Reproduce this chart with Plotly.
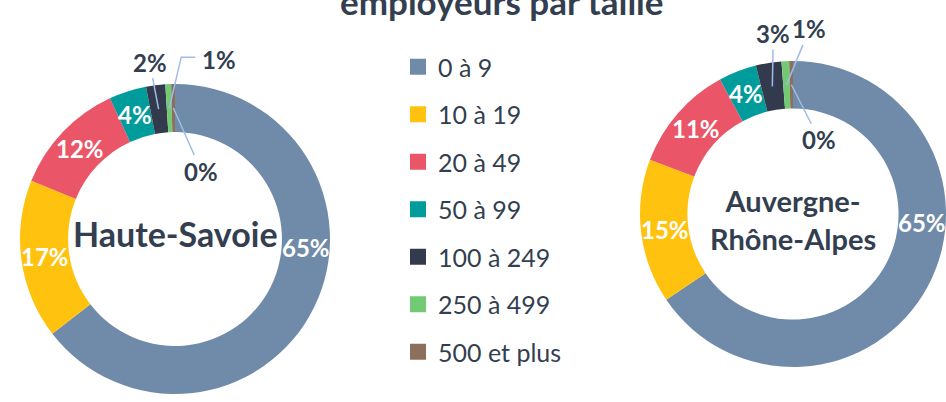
"""Donut charts: employeurs par taille (Haute-Savoie vs Auvergne-Rhône-Alpes)"""
import math
import plotly.graph_objects as go

# ---- data ----
categories = ["0 à 9", "10 à 19", "20 à 49", "50 à 99", "100 à 249", "250 à 499", "500 et plus"]
haute_savoie = [64.6, 16.6, 12.0, 3.9, 2.0, 0.6, 0.4]
auvergne_rhone_alpes = [65.4, 15.2, 11.3, 4.0, 2.7, 0.8, 0.4]
region_names = ["Haute-Savoie", "Auvergne-<br>Rhône-Alpes"]
title_text = "employeurs par taille"

# ---- style ----
colors = ["#6F8BA9", "#FFC20E", "#EA5668", "#009C9C", "#333A4D", "#72CB72", "#8C705E"]
TEXT = "#333F50"
LEADER = "#9DBDE6"
FONT = "Lato"
W, H = 946, 402
HOLE = 0.69

# pie domains in pixels (x0, x1, y0, y1 from top)
domains_px = [(20, 330, 84, 394), (640, 946, 61, 367)]
name_sizes = [34, 29]
name_shift = [-6, 5]  # vertical nudge of the centre title, px

# callouts for the small slices: (slice index, dx, dy, elbow) label offset from tip in px
callouts = [
    [(4, -9, -47, False), (5, 50, -49, True), (6, 28, 63, False)],
    [(4, 1, -53, False), (5, 23, -56, False), (6, 28, 55, False)],
]
MAIN_LABEL_AT = 0.26  # angular position (fraction of the turn) of the big slice label


def geom(dom):
    x0, x1, y0, y1 = dom
    r = min(x1 - x0, y1 - y0) / 2
    return (x0 + x1) / 2, (y0 + y1) / 2, r


def polar(cx, cy, r, frac):
    a = 2 * math.pi * frac
    return cx + r * math.sin(a), cy - r * math.cos(a)


def px(x):
    return x / W


def py(y):
    return 1 - y / H


def note(x, y, text, size, color, **kw):
    return dict(x=px(x), y=py(y), xref="paper", yref="paper",
                xanchor="center", yanchor="middle", text=text,
                font=dict(family=FONT, size=size, color=color), **kw)


fig = go.Figure()
annotations = []
shapes = []

for k, (values, name) in enumerate(zip([haute_savoie, auvergne_rhone_alpes], region_names)):
    dom = domains_px[k]
    fig.add_trace(go.Pie(
        labels=categories,
        values=values,
        hole=HOLE,
        sort=False,
        direction="clockwise",
        rotation=0,
        marker=dict(colors=colors, line=dict(width=0)),
        textinfo="none",
        hoverinfo="label+percent",
        showlegend=False,
        domain=dict(x=[px(dom[0]), px(dom[1])], y=[py(dom[3]), py(dom[2])]),
    ))

    cx, cy, r = geom(dom)
    rmid = r * (1 + HOLE) / 2
    total = sum(values)
    cum = 0
    small = {c[0]: c for c in callouts[k]}
    for i, v in enumerate(values):
        frac_mid = (cum + v / 2) / total
        cum += v
        label = f"<b>{round(v)}%</b>"
        if i in small:
            _, dx, dy, elbow = small[i]
            tx, ty = polar(cx, cy, rmid, frac_mid)
            if elbow:
                lx, ly = tx + dx, ty + dy
                path = (f"M{px(tx)},{py(ty)} L{px(lx - 38)},{py(ly - 2)} "
                        f"L{px(lx - 24)},{py(ly - 2)}")
                shapes.append(dict(type="path", xref="paper", yref="paper", path=path,
                                   line=dict(color=LEADER, width=1.5)))
                annotations.append(note(lx, ly, label, 24, TEXT, showarrow=False))
            else:
                annotations.append(note(
                    tx, ty, label, 24, TEXT, showarrow=True, arrowhead=0,
                    arrowwidth=1.5, arrowcolor=LEADER, ax=dx, ay=dy,
                    standoff=0, startstandoff=0,
                ))
        else:
            f = MAIN_LABEL_AT if i == 0 else frac_mid
            lx, ly = polar(cx, cy, rmid, f)
            annotations.append(note(lx, ly, label, 24, "white", showarrow=False))

    annotations.append(note(cx, cy + name_shift[k], f"<b>{name}</b>", name_sizes[k], TEXT,
                            showarrow=False))

annotations.append(note(502, 1, f"<b>{title_text}</b>", 35, TEXT, showarrow=False))

# legend entries
for cat, col in zip(categories, colors):
    fig.add_trace(go.Scatter(
        x=[None], y=[None], mode="markers", name=cat, legendgroup=cat,
        marker=dict(symbol="square", size=16, color=col),
    ))

fig.update_layout(
    width=W, height=H,
    margin=dict(l=0, r=0, t=0, b=0),
    paper_bgcolor="white", plot_bgcolor="white",
    xaxis=dict(visible=False), yaxis=dict(visible=False),
    annotations=annotations,
    shapes=shapes,
    legend=dict(
        x=px(398), y=py(44), xanchor="left", yanchor="top",
        font=dict(family=FONT, size=25, color=TEXT),
        tracegroupgap=12, itemsizing="trace",
        bgcolor="rgba(0,0,0,0)",
    ),
)

fig.write_html("out.html", config={"displayModeBar": False},
               post_script="document.body.style.margin='0';")
